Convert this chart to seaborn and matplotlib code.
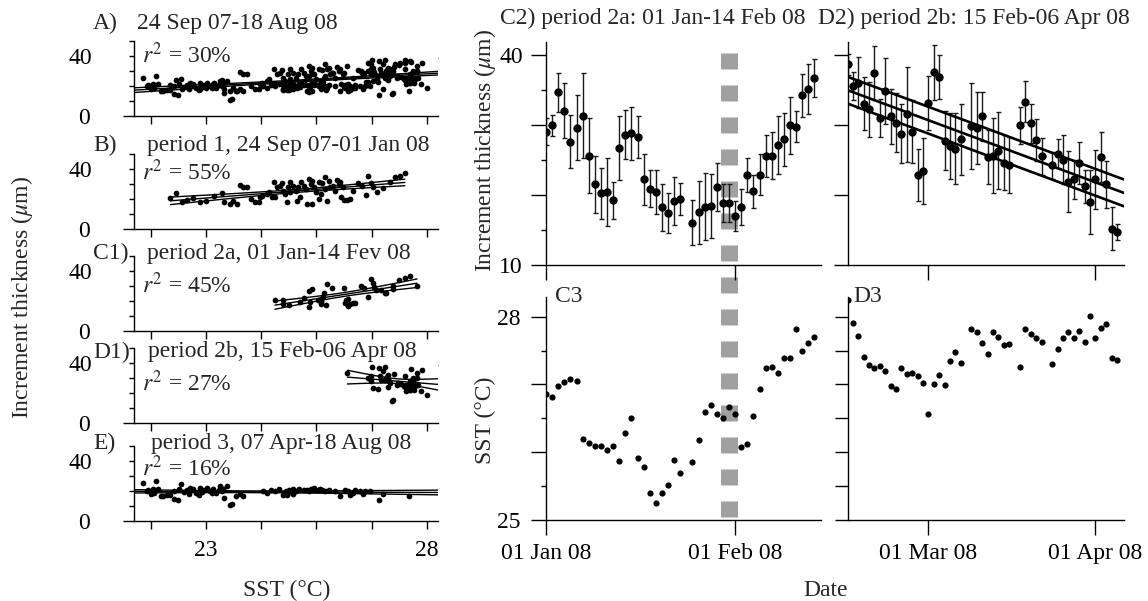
import numpy as np
import pandas as pd
import matplotlib
matplotlib.use("Agg")
import matplotlib.pyplot as plt
import matplotlib.dates as mdates
from matplotlib.lines import Line2D
from matplotlib.transforms import blended_transform_factory
import seaborn as sns

# ---- data ----
# period 2a (C2/C3): daily, 01 Jan - 14 Feb 08, 24 Jan missing
c_dates = pd.date_range("2008-01-01", "2008-02-14").drop(pd.Timestamp("2008-01-24"))
c_inc = [29.0, 29.9, 34.6, 32.0, 27.6, 29.6, 31.3, 25.6, 21.5, 20.2, 20.4, 19.2, 26.7, 28.6, 28.8, 28.2,
         22.2, 20.9, 20.4, 18.2, 17.4, 19.1, 19.4,
         16.0, 17.5, 18.3, 18.4, 21.1, 18.9, 18.9, 17.0, 18.3, 22.8, 20.5, 22.9, 25.6, 25.6, 27.1, 27.9,
         29.9, 29.7, 34.2, 35.1, 36.7]
c_err = [1.9, 1.5, 2.8, 3.9, 3.8, 4.6, 6.1, 5.3, 4.1, 3.7, 4.9, 2.7, 4.6, 3.5, 3.8, 3.0, 3.6, 2.7, 3.1,
         3.3, 2.8, 3.4, 2.3,
         3.2, 4.5, 4.8, 4.6, 3.4, 2.7, 2.7, 2.1, 2.6, 2.4, 2.4, 2.9, 3.0, 3.3, 4.1, 3.8, 4.0, 2.2, 3.1,
         3.5, 2.7]
c_sst = [26.86, 26.81, 26.98, 27.03, 27.08, 27.05, 26.19, 26.14, 26.09, 26.09, 26.03, 26.09, 25.87,
         26.28, 26.50, 25.92, 25.78, 25.40, 25.25, 25.40, 25.51, 25.88, 25.70,
         25.86, 26.18, 26.60, 26.70, 26.57, 26.51, 26.67, 26.57, 26.08, 26.12, 26.53, 26.93, 27.25,
         27.26, 27.17, 27.39, 27.39, 27.82, 27.50, 27.61, 27.70]

# period 2b (D2/D3): daily, 15 Feb - 05 Apr 08, 08/17/23 Mar missing
d_dates = pd.date_range("2008-02-15", "2008-04-05").drop(
    pd.to_datetime(["2008-03-08", "2008-03-17", "2008-03-23"]))
d_inc = [38.6, 35.5, 36.0, 33.0, 32.2, 37.4, 31.0, 34.8, 31.2, 30.3, 28.7, 31.5, 29.0, 22.8, 23.4,
         33.1, 37.5, 36.8, 27.7, 27.0, 26.6, 27.9,
         29.8, 29.5, 31.2, 25.4, 25.6, 26.3, 24.6, 24.2,
         29.9, 33.3, 30.2, 27.8, 25.5,
         24.2, 25.9, 25.0, 21.9, 22.2, 24.6, 21.2, 19.0, 22.2, 25.4, 21.5, 15.2, 14.7]
d_err = [1.5, 2.0, 3.6, 3.8, 3.9, 3.8, 2.7, 4.7, 3.9, 4.2, 4.2, 6.8, 4.5, 3.7, 4.7, 3.9, 3.9, 3.1,
         4.2, 4.7, 5.1, 5.1,
         6.1, 5.1, 3.5, 3.8, 5.3, 5.5, 3.9, 4.0,
         2.6, 2.9, 2.8, 3.0, 2.6,
         1.9, 2.0, 3.5, 4.3, 2.8, 3.0, 2.4, 4.6, 4.2, 3.5, 3.4, 3.0, 1.1]
d_sst = [28.25, 27.91, 27.71, 27.41, 27.29, 27.25, 27.27, 27.20, 26.98, 26.94, 27.24, 27.15, 27.17,
         27.12, 27.02, 26.56, 27.00, 27.14, 26.99, 27.34, 27.48, 27.32,
         27.82, 27.77, 27.61, 27.45, 27.77, 27.70, 27.58, 27.60,
         27.26, 27.82, 27.74, 27.69, 27.62,
         27.30, 27.53, 27.69, 27.77, 27.69, 27.79, 27.62, 28.01, 27.69, 27.84, 27.89, 27.39, 27.36]

# period 1 (B): SST vs increment
b_sst = [23.36, 23.46, 23.57, 23.66, 23.77, 23.90, 24.01, 24.14, 24.29, 24.33, 24.44, 24.50, 24.56,
         24.61, 24.68, 24.75, 24.81, 24.89, 24.97, 25.01, 25.10, 25.15, 25.19, 25.23, 25.28, 25.34,
         25.39, 25.43, 25.48, 25.52, 25.58, 25.63, 25.67, 25.72, 25.77, 25.81, 25.86, 25.90, 25.95,
         25.99, 26.04, 26.08, 26.11, 26.16, 26.20, 26.25, 26.30, 26.34, 26.40, 26.44, 26.50, 26.55,
         26.61, 26.67, 26.76, 26.82, 26.90, 26.94, 26.98, 27.03, 27.10, 27.21, 27.33, 27.42, 27.51,
         27.60, 25.83, 25.92, 26.04, 25.46, 25.70, 26.22, 26.37, 26.49, 26.43, 25.92, 26.16, 25.64,
         25.37, 25.52, 25.26, 24.98]
b_inc = [20.8, 24.1, 18.3, 19.4, 20.8, 17.9, 19.0, 22.3, 23.9, 17.9, 16.8, 19.0, 16.4, 29.4, 27.8,
         28.3, 20.1, 17.9, 17.9, 22.3, 23.4, 24.5, 21.2, 31.2, 27.8, 29.0, 25.6, 23.4, 27.8, 24.5,
         29.0, 25.6, 27.8, 31.2, 29.0, 26.7, 33.4, 30.1, 27.8, 24.5, 31.2, 23.4, 30.5, 26.7, 19.0,
         27.8, 29.0, 25.6, 30.1, 21.2, 19.4, 19.4, 19.9, 25.6, 30.5, 29.0, 23.0, 35.6, 30.5, 27.8,
         24.5, 27.4, 31.2, 34.5, 35.6, 37.1, 16.8, 16.4, 20.1, 17.9, 21.2, 32.3, 32.7, 27.8, 31.2,
         32.3, 34.5, 19.0, 30.5, 31.2, 21.2, 21.2]

# period 3 (E): SST vs increment
e_sst = [22.86, 22.93, 23.01, 23.07, 23.10, 23.14, 23.19, 23.23, 23.30, 23.36, 23.43, 23.49, 23.52,
         23.55, 23.60, 23.66, 23.72, 23.77, 23.83, 23.87, 23.93, 23.97, 24.02, 24.07, 24.13, 24.19,
         24.23, 24.29, 24.33, 24.38, 24.43, 24.48, 24.55, 24.62, 24.68, 25.04, 25.10, 25.17, 25.25,
         25.33, 25.39, 25.45, 25.51, 25.57, 25.63, 25.69, 25.77, 25.83, 25.90, 25.96, 26.02, 26.10,
         26.16, 26.22, 26.43, 26.52, 26.61, 26.70, 26.78, 26.88, 26.97, 27.14, 27.21, 27.68, 26.58,
         26.67, 26.85, 26.07, 25.52, 25.58, 25.46, 25.95, 25.86, 26.34, 22.96, 23.04, 23.42, 23.69,
         23.90, 24.11, 24.26, 24.31]
e_inc = [25.4, 19.8, 18.2, 18.7, 26.5, 21.3, 16.9, 16.4, 17.5, 17.1, 14.6, 13.7, 21.3, 24.9, 19.1,
         20.9, 22.0, 21.3, 18.7, 17.5, 19.1, 20.9, 22.0, 19.8, 21.3, 18.7, 20.9, 19.8, 15.3, 23.1,
         10.8, 11.2, 16.4, 18.2, 16.9, 19.8, 18.7, 20.4, 19.8, 21.3, 17.5, 20.2, 20.9, 21.3, 20.2,
         21.3, 20.4, 20.9, 21.3, 21.8, 20.9, 20.4, 19.8, 20.9, 16.9, 20.9, 17.5, 20.9, 19.8, 20.2,
         19.8, 14.2, 18.2, 16.9, 19.8, 18.7, 18.2, 21.6, 19.1, 18.2, 17.1, 20.4, 19.8, 19.8, 20.9,
         21.3, 19.8, 18.2, 21.8, 18.7, 23.1, 21.3]

left_labels = ["A)", "B)", "C1)", "D1)", "E)"]
left_titles = ["24 Sep 07-18 Aug 08", "period 1, 24 Sep 07-01 Jan 08",
               "period 2a, 01 Jan-14 Fev 08", "period 2b, 15 Feb-06 Apr 08",
               "period 3, 07 Apr-18 Aug 08"]
left_r2 = ["30%", "55%", "45%", "27%", "16%"]
sst_ticks = [23, 24, 25, 26, 27, 28]
sst_ticklabels = ["", "23", "", "", "", "28"]   # as printed on the original
marked_day = "2008-01-31"

# ---- style ----
sns.set_style("ticks")
plt.rcParams['font.family'] = ['Liberation Serif', 'DejaVu Serif']
plt.rcParams['mathtext.fontset'] = 'stix'
plt.rcParams['lines.scale_dashes'] = False
FS = 17
PT = 0.72   # points per pixel at 100 dpi

W, H = 1148, 601
fig = plt.figure(figsize=(W / 100, H / 100), dpi=100)
fig.patch.set_facecolor("white")


def px_axes(left, top, right, bottom):
    ax = fig.add_axes([left / W, 1 - bottom / H, (right - left) / W, (bottom - top) / H])
    sns.despine(ax=ax)
    for s in ("left", "bottom"):
        ax.spines[s].set_linewidth(1.0)
        ax.spines[s].set_color("black")
    ax.tick_params(which="both", direction="out", width=1.0, colors="black", labelsize=FS)
    return ax


def ftext(x, y, s, **kw):
    kw.setdefault("fontsize", FS)
    kw.setdefault("va", "center")
    return fig.text(x / W, 1 - y / H, s, **kw)


def fit_lines(ax, x, y, x0, x1):
    x = np.asarray(x)
    y = np.asarray(y)
    b1, b0 = np.polyfit(x, y, 1)
    resid = y - (b0 + b1 * x)
    n = len(x)
    s = np.sqrt(np.sum(resid ** 2) / (n - 2))
    xs = np.linspace(x0, x1, 100)
    yh = b0 + b1 * xs
    se = s * np.sqrt(1 / n + (xs - x.mean()) ** 2 / np.sum((x - x.mean()) ** 2))
    for yy in (yh - 1.96 * se, yh, yh + 1.96 * se):
        ax.plot(xs, yy, color="black", lw=1.0)


# ---- left column: increment vs SST ----
a_sst = b_sst + c_sst + d_sst + e_sst
a_inc = b_inc + c_inc + d_inc + e_inc
left_data = [(a_sst, a_inc), (b_sst, b_inc), (c_sst, c_inc), (d_sst, d_inc), (e_sst, e_inc)]
bottoms = [116, 229, 331, 423, 521]
title_y = [23, 145, 253, 352, 443]
title_x = [137, 147, 147, 148, 151]
r2_y = [55, 172, 285, 383, 468]
full_span = [True, False, False, False, True]
XL = (22.70, 28.20)

for i, (xs, ys) in enumerate(left_data):
    ax = px_axes(134, bottoms[i] - 75, 438, bottoms[i])
    sns.scatterplot(x=xs, y=ys, ax=ax, color="black", s=17, linewidth=0, legend=False)
    if full_span[i]:
        x0, x1 = XL
    else:
        x0, x1 = min(xs), max(xs)
    fit_lines(ax, xs, ys, x0, x1)
    ax.set_xlim(*XL)
    ax.set_ylim(0, 50)
    ax.set_xticks(sst_ticks, labels=sst_ticklabels if i == 4 else [""] * len(sst_ticks))
    ax.set_yticks([0], labels=["0"])
    ax.set_yticks([10, 20, 30, 40, 50], labels=["", "", "", "40", ""], minor=True)
    ax.tick_params(axis="x", length=8 * PT, pad=11 * PT)
    ax.tick_params(axis="y", which="major", length=11 * PT, pad=33 * PT)
    ax.tick_params(axis="y", which="minor", length=5 * PT, pad=37 * PT, labelsize=FS)
    ax.set_xlabel("")
    ax.set_ylabel("")
    ftext(93, title_y[i], left_labels[i])
    ftext(title_x[i], title_y[i], left_titles[i])
    ftext(142, r2_y[i], "$r^2$ = " + left_r2[i])

ftext(22, 297, "Increment thickness ($\\mu$m)", rotation=90, ha="center")
ftext(287, 590, "SST (°C)", ha="center")

# ---- right: time series ----
c_num = mdates.date2num(c_dates)
d_num = mdates.date2num(d_dates)
c_lim = (mdates.date2num(pd.Timestamp("2008-01-01")), mdates.date2num(pd.Timestamp("2008-01-01")) + 45.07)
d_lim = (mdates.date2num(pd.Timestamp("2008-02-15")), mdates.date2num(pd.Timestamp("2008-02-15")) + 51.3)
c_ticks = mdates.date2num(pd.to_datetime(["2008-01-01", "2008-02-01"]))
d_ticks = mdates.date2num(pd.to_datetime(["2008-03-01", "2008-04-01"]))

eb = dict(fmt="o", color="black", ms=5.0, ecolor="#1a1a1a", elinewidth=1.0, capsize=1.8, capthick=1.0)

axC2 = px_axes(546, 42, 821, 265)
axC2.errorbar(c_num, c_inc, yerr=c_err, **eb)
axD2 = px_axes(847.5, 42, 1124, 265)
axD2.errorbar(d_num, d_inc, yerr=d_err, **eb)

# D2 regression on time, parallel lines = +- 1.96 SE of intercept
dd = d_num - d_num[0]
b1, b0 = np.polyfit(dd, d_inc, 1)
res = np.asarray(d_inc) - (b0 + b1 * dd)
s = np.sqrt(np.sum(res ** 2) / (len(dd) - 2))
se0 = s * np.sqrt(1 / len(dd) + dd.mean() ** 2 / np.sum((dd - dd.mean()) ** 2))
xx = np.linspace(d_lim[0], d_lim[1], 50)
for off in (-1.96 * se0, 0, 1.96 * se0):
    axD2.plot(xx, b0 + b1 * (xx - d_num[0]) + off, color="black", lw=1.9)

axC3 = px_axes(546, 296.7, 821, 520)
sns.scatterplot(x=c_num, y=c_sst, ax=axC3, color="black", s=20, linewidth=0, legend=False)
axD3 = px_axes(847.5, 296.7, 1124, 520)
sns.scatterplot(x=d_num, y=d_sst, ax=axD3, color="black", s=20, linewidth=0, legend=False)

for ax, lim, ticks, lab in ((axC2, c_lim, c_ticks, False), (axC3, c_lim, c_ticks, True),
                            (axD2, d_lim, d_ticks, False), (axD3, d_lim, d_ticks, True)):
    ax.set_xlim(*lim)
    labels = [mdates.num2date(t).strftime("%d %b %y") for t in ticks] if lab else ["", ""]
    ax.set_xticks(ticks, labels=labels)
    ax.tick_params(axis="x", length=15 * PT, pad=8 * PT)
    ax.set_xlabel("")
    ax.set_ylabel("")
    ax.patch.set_facecolor("none")

for ax in (axC2, axD2):
    ax.set_ylim(10, 41.8)
axC2.set_yticks([10, 20, 30, 40], labels=["10", "", "", "40"])
axC2.set_yticks([15, 25, 35], minor=True)
axC2.tick_params(axis="y", which="major", length=15 * PT, pad=8 * PT)
axC2.tick_params(axis="y", which="minor", length=5.5 * PT)
axD2.set_yticks([10, 20, 30, 40], labels=["", "", "", ""])
axD2.tick_params(axis="y", length=14 * PT)

for ax in (axC3, axD3):
    ax.set_ylim(25, 28.295)
axC3.set_yticks([25, 26, 27, 28], labels=["25", "", "", "28"])
axC3.set_yticks([25.5, 26.5, 27.5], minor=True)
axC3.tick_params(axis="y", which="major", length=15 * PT, pad=10 * PT)
axC3.tick_params(axis="y", which="minor", length=5.5 * PT)
axD3.set_yticks([25, 25.5, 26, 26.5, 27, 27.5, 28], labels=[""] * 7)
axD3.tick_params(axis="y", length=13 * PT)

# gray dashed marker across C2 and C3
blend = blended_transform_factory(axC3.transData, fig.transFigure)
xm = mdates.date2num(pd.Timestamp(marked_day))
fig.add_artist(Line2D([xm, xm], [1 - 53 / H, 1 - 519 / H], transform=blend, color="#a0a0a0",
                      lw=17 * PT, dashes=(16 * PT, 16 * PT), zorder=-1))

ftext(500, 18, "C2) period 2a: 01 Jan-14 Feb 08")
ftext(818, 18, "D2) period 2b: 15 Feb-06 Apr 08")
ftext(555, 297, "C3")
ftext(853, 297, "D3")
ftext(485, 150, "Increment thickness ($\\mu$m)", rotation=90, ha="center")
ftext(485, 420, "SST (°C)", rotation=90, ha="center")
ftext(826, 590, "Date", ha="center")

fig.savefig("out.png", dpi=100)
